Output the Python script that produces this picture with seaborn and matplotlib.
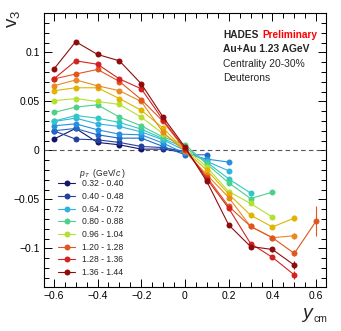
import numpy as np
import pandas as pd
import matplotlib
matplotlib.use("Agg")
import matplotlib.pyplot as plt
import seaborn as sns
from matplotlib.lines import Line2D
from matplotlib.ticker import MultipleLocator, FuncFormatter

# ---------------- data ----------------
y_cm = [-0.6, -0.5, -0.4, -0.3, -0.2, -0.1, 0.0, 0.1, 0.2, 0.3, 0.4, 0.5, 0.6]

pt_bins = ["0.32 - 0.40", "0.40 - 0.48", "0.48 - 0.56", "0.56 - 0.64",
           "0.64 - 0.72", "0.72 - 0.80", "0.80 - 0.88", "0.96 - 1.04",
           "1.04 - 1.12", "1.12 - 1.20", "1.20 - 1.28", "1.28 - 1.36",
           "1.36 - 1.44"]
legend_bins = ["0.32 - 0.40", "0.40 - 0.48", "0.64 - 0.72", "0.80 - 0.88",
               "0.96 - 1.04", "1.20 - 1.28", "1.28 - 1.36", "1.36 - 1.44"]

v3_032_040 = [0.0116, 0.0225, 0.0082, 0.0058, 0.0014, 0.0014, -0.002]
v3_040_048 = [0.0201, 0.0116, 0.0109, 0.0082, 0.0041, 0.0030, -0.001]
v3_048_056 = [0.0201, 0.0225, 0.0160, 0.0126, 0.0126, 0.0041, -0.0044, -0.0044]
v3_056_064 = [0.0252, 0.0272, 0.0211, 0.0167, 0.0160, 0.0075, -0.003, -0.0088, -0.0118]
v3_064_072 = [0.0296, 0.0330, 0.0272, 0.0245, 0.0190, 0.0109, 0.000, -0.0112, -0.0207]
v3_072_080 = [0.0300, 0.0357, 0.0330, 0.0286, 0.0218, 0.0120, 0.003, -0.0120, -0.0290, -0.0435]
v3_080_088 = [0.0388, 0.0443, 0.0466, 0.0340, 0.0252, 0.0136, 0.006, -0.0139, -0.0330, -0.0490, -0.0425]
v3_096_104 = [0.0507, 0.0530, 0.0500, 0.0470, 0.0340, 0.0170, 0.002, -0.0170, -0.0420, -0.0540, -0.0680]
v3_104_112 = [0.0610, 0.0640, 0.0640, 0.0530, 0.0410, 0.0228, 0.000, -0.0200, -0.0445, -0.0660, -0.0780, -0.0690]
v3_112_120 = [0.0660, 0.0720, 0.0660, 0.0610, 0.0500, 0.0184, -0.001, -0.0248, -0.0480, -0.0775, -0.0890, -0.0870]
v3_120_128 = [0.0730, 0.0780, 0.0827, 0.0704, 0.0520, 0.0296, 0.001, -0.0270, -0.0570, -0.0775, -0.0890, -0.1050, -0.0720]
v3_128_136 = [0.0730, 0.0915, 0.0880, 0.0730, 0.0630, 0.0310, 0.002, -0.0290, -0.0590, -0.0950, -0.1090, -0.1270]
v3_136_144 = [0.0830, 0.1110, 0.0980, 0.0915, 0.0680, 0.0340, 0.0035, -0.0316, -0.0760, -0.0980, -0.1010, -0.1170]

err_032_040 = [0.002] * 7
err_040_048 = [0.002] * 7
err_048_056 = [0.001] * 8
err_056_064 = [0.001] * 9
err_064_072 = [0.001] * 9
err_072_080 = [0.001] * 10
err_080_088 = [0.001] * 11
err_096_104 = [0.001] * 10 + [0.002]
err_104_112 = [0.001] * 10 + [0.002, 0.003]
err_112_120 = [0.001] * 10 + [0.002, 0.003]
err_120_128 = [0.001] * 10 + [0.002, 0.003, 0.015]
err_128_136 = [0.001] * 10 + [0.002, 0.004]
err_136_144 = [0.001] * 9 + [0.002, 0.003, 0.004]

series_vals = [v3_032_040, v3_040_048, v3_048_056, v3_056_064, v3_064_072,
               v3_072_080, v3_080_088, v3_096_104, v3_104_112, v3_112_120,
               v3_120_128, v3_128_136, v3_136_144]
series_errs = [err_032_040, err_040_048, err_048_056, err_056_064, err_064_072,
               err_072_080, err_080_088, err_096_104, err_104_112, err_112_120,
               err_120_128, err_128_136, err_136_144]

colors = ["#14166e", "#25409a", "#2068c8", "#2590e0", "#30b2e2", "#30c8c4",
          "#4cd08a", "#b4e030", "#e0b400", "#e88a20", "#e05520", "#d42222",
          "#8e0c0c"]

# ---------------- figure ----------------
sns.set_theme(style="ticks")
plt.rcParams["font.family"] = ["Liberation Sans", "DejaVu Sans"]
plt.rcParams["mathtext.fontset"] = "custom"
plt.rcParams["mathtext.rm"] = "Liberation Sans"
plt.rcParams["mathtext.it"] = "Liberation Sans:italic"

W, H = 341, 331
fig = plt.figure(figsize=(W / 100, H / 100), dpi=100)
L, R, T, B = 44, 326, 13.3, 286.7
ax = fig.add_axes([L / W, 1 - B / H, (R - L) / W, (B - T) / H])

rows = []
for lab, vals, errs in zip(pt_bins, series_vals, series_errs):
    for i, (v, e) in enumerate(zip(vals, errs)):
        rows.append({"y": y_cm[i], "v3": v, "err": e, "pt": lab})
df = pd.DataFrame(rows)
palette = dict(zip(pt_bins, colors))

ax.axhline(0, ls=(0, (4, 3)), color="#555555", lw=0.8, zorder=1)

for lab in pt_bins:
    d = df[df.pt == lab]
    ax.errorbar(d["y"], d["v3"], yerr=d["err"], fmt="none",
                ecolor=palette[lab], elinewidth=0.8, capsize=0, zorder=2)

sns.lineplot(data=df, x="y", y="v3", hue="pt", hue_order=pt_bins,
             palette=palette, marker="o", markersize=4.3, markeredgewidth=0,
             linewidth=0.8, legend=False, ax=ax, sort=False,
             estimator=None, errorbar=None, zorder=3)

ax.set_xlim(-0.645, 0.645)
ax.set_ylim(-0.139, 0.140)
ax.set_xlabel("")
ax.set_ylabel("")

ax.xaxis.set_major_locator(MultipleLocator(0.2))
ax.xaxis.set_minor_locator(MultipleLocator(0.05))
ax.yaxis.set_major_locator(MultipleLocator(0.05))
ax.yaxis.set_minor_locator(MultipleLocator(0.01))

def fmt(v, pos):
    s = "%g" % round(v, 3)
    if s in ("-0", "0"):
        return "0"
    return s.replace("-", "\u2212")

ax.xaxis.set_major_formatter(FuncFormatter(fmt))
ax.yaxis.set_major_formatter(FuncFormatter(fmt))
ax.tick_params(which="both", direction="in", top=True, right=True,
               width=0.7, colors="black", labelsize=7.5, pad=3)
ax.tick_params(which="major", length=6)
ax.tick_params(which="minor", length=3.3)
for s in ax.spines.values():
    s.set_linewidth(0.8)
    s.set_color("black")

def fx(x):
    return x / W

def fy(y):
    return 1 - y / H

# axis titles
fig.text(fx(13), fy(10), r"$\mathregular{v_{3}}$", rotation=90, fontsize=13.5,
         ha="center", va="top")
fig.text(fx(302), fy(318), "y", fontsize=14, style="italic", ha="left", va="baseline")
fig.text(fx(313.5), fy(322), "cm", fontsize=7.5, ha="left", va="baseline")

# header text
fig.text(fx(223), fy(35), "HADES", fontsize=7.3, weight="bold", ha="left", va="center")
fig.text(fx(262), fy(35), "Preliminary", fontsize=7.3, weight="bold",
         color="#ff0000", ha="left", va="center")
fig.text(fx(223), fy(49.3), "Au+Au 1.23 AGeV", fontsize=7.4, weight="bold",
         ha="left", va="center")
fig.text(fx(223), fy(63.7), "Centrality 20-30%", fontsize=7.4, ha="left", va="center")
fig.text(fx(223), fy(78.3), "Deuterons", fontsize=7.4, ha="left", va="center")

# legend
fig.text(fx(79), fy(173), r"$p_{T}$  (GeV/$c$ )", fontsize=6.2, ha="left", va="center")
handles = [Line2D([0], [0], color=palette[b], marker="o", markersize=4.3,
                  markeredgewidth=0, lw=0.8) for b in legend_bins]
ax.legend(handles, legend_bins, loc="upper left",
          bbox_to_anchor=((58 - L) / (R - L), (B - 179.5) / (B - T)),
          frameon=False, fontsize=6.2, borderpad=0, borderaxespad=0,
          handlelength=2.0, handletextpad=0.8, labelspacing=0.42)

fig.savefig("out.png", dpi=100)
